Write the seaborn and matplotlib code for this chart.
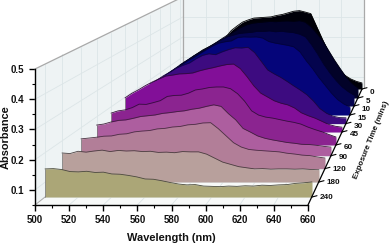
import numpy as np
import pandas as pd
import matplotlib
matplotlib.use("Agg")
import matplotlib.pyplot as plt
from matplotlib.patches import Polygon
from matplotlib.transforms import Affine2D, IdentityTransform
from matplotlib.ticker import MultipleLocator
import seaborn as sns

wavelength = list(range(500, 661, 5))
t240 = [.145,.146,.143,.136,.135,.137,.133,.134,.128,.127,.123,.118,.111,.110,.105,.099,.094,.091,.092,.087,.086,.085,.087,.086,.088,.087,.090,.089,.091,.092,.096,.098,.101]
t180 = [.152,.150,.158,.155,.159,.162,.157,.161,.159,.160,.157,.158,.154,.155,.153,.157,.156,.156,.148,.134,.120,.112,.104,.100,.096,.097,.095,.096,.096,.095,.096,.094,.093]
t120 = [.160,.163,.166,.170,.171,.177,.179,.186,.189,.191,.197,.199,.204,.206,.212,.214,.219,.220,.198,.172,.146,.130,.121,.118,.116,.114,.112,.107,.104,.100,.098,.093,.089]
t90 = [.168,.172,.180,.186,.188,.194,.201,.204,.207,.213,.216,.220,.223,.229,.233,.240,.246,.240,.212,.188,.155,.141,.126,.117,.111,.106,.101,.098,.094,.093,.090,.086,.083]
t60 = [.178,.187,.191,.200,.214,.213,.220,.228,.245,.249,.250,.258,.271,.275,.281,.283,.283,.276,.256,.226,.187,.170,.162,.158,.152,.146,.141,.134,.122,.112,.103,.092,.082]
t45 = [.192,.211,.226,.243,.258,.271,.283,.287,.292,.293,.296,.305,.312,.318,.325,.331,.333,.314,.280,.242,.212,.196,.180,.170,.163,.150,.130,.118,.108,.095,.082,.074,.070]
t30 = [.174,.195,.215,.237,.256,.272,.290,.302,.312,.330,.345,.352,.348,.360,.370,.378,.377,.380,.357,.320,.282,.265,.250,.232,.213,.195,.175,.148,.115,.095,.082,.076,.075]
t15 = [.190,.205,.220,.240,.258,.276,.295,.310,.328,.345,.362,.375,.381,.385,.400,.403,.402,.403,.398,.382,.375,.370,.365,.358,.335,.295,.260,.220,.185,.150,.120,.100,.086]
t10 = [.172,.195,.215,.235,.255,.272,.290,.305,.321,.340,.358,.372,.380,.388,.391,.393,.398,.397,.400,.396,.398,.395,.392,.385,.372,.335,.292,.245,.205,.170,.140,.118,.101]
t5 = [.173,.192,.212,.232,.252,.268,.285,.302,.319,.338,.356,.373,.389,.402,.410,.413,.416,.418,.417,.420,.421,.419,.422,.415,.392,.360,.325,.278,.232,.190,.150,.120,.098]
t0 = [.169,.186,.205,.225,.244,.258,.272,.288,.305,.340,.362,.382,.393,.402,.404,.406,.408,.415,.420,.428,.436,.439,.432,.424,.362,.300,.240,.190,.145,.118,.100,.088,.080]

series = [t240, t180, t120, t90, t60, t45, t30, t15, t10, t5, t0]
time_labels = ["240", "180", "120", "90", "60", "45", "30", "15", "10", "5", "0"]
colors = ["#ABA677", "#B8A09C", "#B27E98", "#AD5E9F", "#8B2490", "#820F98",
          "#3D0B80", "#05057A", "#04044E", "#020228", "#000008"]
edges = ["#4a4a3a", "#4a3f3f", "#4a3040", "#40203c", "#35103a", "#35083c",
         "#1a0540", "#02023c", "#010128", "#000010", "#000000"]
# depth planes: left edge (px), baseline (px from top), right edge (px)
plane_left = [45, 62, 81, 96.5, 111, 125, 137, 150, 160, 170, 180]
plane_base = [197, 182, 168.6, 155.7, 145, 132, 123.6, 115, 106, 98, 89]
plane_right = [312, 319, 325, 331, 336, 342, 346, 350, 354, 358, 362]

W, H = 392, 245
FX, FY, FW, FH = 35, 205, 273, 136

sns.set_style("ticks")
plt.rcParams["font.family"] = ["Liberation Sans", "DejaVu Sans"]
plt.rcParams["font.weight"] = "bold"

fig = plt.figure(figsize=(W / 100, H / 100), dpi=100, facecolor="white")
ax = fig.add_axes([FX / W, (H - FY) / H, FW / W, FH / H])
ax.patch.set_visible(False)
ax.set_xlim(500, 660)
ax.set_ylim(0.05, 0.5)


def plane(left, base, right):
    s = (right - left) / FW
    return Affine2D().translate(-FX, -(H - FY)).scale(s).translate(left, H - base)


back = plane(183, 87, 364)
front = Affine2D()
to_px = ax.transData


def pt(w, a, tr):
    return tr.transform(to_px.transform((w, a)))


WALL = "#EEF3F4"
FLOOR = "#F7F9F8"
GRID = "#DCE5E7"
EDGE = "#A9A9A9"
idt = IdentityTransform()
ax.add_patch(Polygon([pt(500, .5, front), pt(500, .5, back), pt(500, .05, back), pt(500, .05, front)],
                     transform=idt, fc=WALL, ec="none", zorder=1, clip_on=False))
ax.add_patch(Polygon([pt(500, .5, back), pt(660, .5, back), pt(660, .05, back), pt(500, .05, back)],
                     transform=idt, fc=WALL, ec="none", zorder=1, clip_on=False))
ax.add_patch(Polygon([pt(500, .05, front), pt(660, .05, front), pt(660, .05, back), pt(500, .05, back)],
                     transform=idt, fc=FLOOR, ec="none", zorder=1, clip_on=False))


def seg(p, q, color=GRID, lw=0.6, z=2):
    ax.plot([p[0], q[0]], [p[1], q[1]], transform=idt, color=color, lw=lw, zorder=z, clip_on=False)


for w in range(520, 660, 20):
    seg(pt(w, .05, back), pt(w, .5, back))
    seg(pt(w, .05, front), pt(w, .05, back))
for a in (.1, .2, .3, .4):
    seg(pt(500, a, back), pt(660, a, back))
    seg(pt(500, a, front), pt(500, a, back))
for L, B, R in zip(plane_left, plane_base, plane_right):
    tr = plane(L, B, R)
    seg(pt(500, .05, tr), pt(500, .5, tr))
    seg(pt(500, .05, tr), pt(660, .05, tr), color="#E6ECEC")
seg(pt(500, .5, front), pt(500, .5, back), EDGE, 0.9, 3)
seg(pt(500, .5, back), pt(660, .5, back), EDGE, 0.9, 3)
seg(pt(500, .5, back), pt(500, .05, back), EDGE, 0.9, 3)
seg(pt(660, .5, back), pt(660, .05, back), EDGE, 0.9, 3)
seg(pt(500, .05, front), pt(500, .05, back), EDGE, 0.7, 3)

for i, (vals, c, e, L, B, R) in enumerate(zip(series, colors, edges, plane_left, plane_base, plane_right)):
    T = ax.transData + plane(L, B, R)
    order = 30 - i
    ax.fill_between(wavelength, 0.05, vals, transform=T, color=c, lw=0, zorder=order, clip_on=False)
    sns.lineplot(x=wavelength, y=vals, ax=ax, color=e, linewidth=0.6, estimator=None, sort=False,
                 legend=False, transform=T, zorder=order + 0.5, clip_on=False)
    ax.plot([500, 500], [.05, vals[0]], transform=T, color="#777777", lw=0.5, zorder=order + .5, clip_on=False)

# axes
ax.set_xlim(500, 660)
ax.set_ylim(0.05, 0.5)
ax.set_xlabel("")
ax.set_ylabel("")
sns.despine(ax=ax)
for sp in ("left", "bottom"):
    ax.spines[sp].set_linewidth(1.0)
    ax.spines[sp].set_color("black")
    ax.spines[sp].set_zorder(50)
ax.set_xticks(list(range(500, 661, 20)))
ax.set_xticklabels([str(v) for v in range(500, 661, 20)], fontweight="bold")
ax.set_yticks([.1, .2, .3, .4, .5])
ax.set_yticklabels(["0.1", "0.2", "0.3", "0.4", "0.5"], fontweight="bold")
ax.xaxis.set_minor_locator(MultipleLocator(10))
ax.yaxis.set_minor_locator(MultipleLocator(.05))
ax.tick_params(which="major", length=4, width=1, labelsize=7, pad=3.5, color="black", labelcolor="#111111")
ax.tick_params(which="minor", length=2.2, width=0.8, color="black")

fig.text(171 / W, 1 - 238 / H, "Wavelength (nm)", ha="center", va="center", fontsize=7.9, fontweight="bold", color="#111111")
fig.text(6 / W, 1 - 137 / H, "Absorbance", rotation=90, ha="center", va="center", fontsize=7.9, fontweight="bold", color="#111111")

# depth axis
seg((FX + FW, H - FY), (plane_right[-1], H - plane_base[-1]), "black", 0.9, 60)
for lab, B, R, L in zip(time_labels, plane_base, plane_right, plane_left):
    s = (R - L) / FW
    seg((R, H - B), (R + 5, H - B + 1.3), "black", 0.8, 60)
    fig.text((R + 7.5) / W, 1 - (B + (1 - s) * 12) / H, lab, ha="left", va="center", fontsize=5.9, fontweight="bold", color="#111111")
fig.text(371 / W, 1 - 140 / H, "Exposure Time (mins)", rotation=68, rotation_mode="anchor",
         ha="center", va="center", fontsize=5.8, fontweight="bold", color="#111111",
         family=["Liberation Sans Narrow", "Liberation Sans"])

fig.savefig("out.png", dpi=100, facecolor="white")
